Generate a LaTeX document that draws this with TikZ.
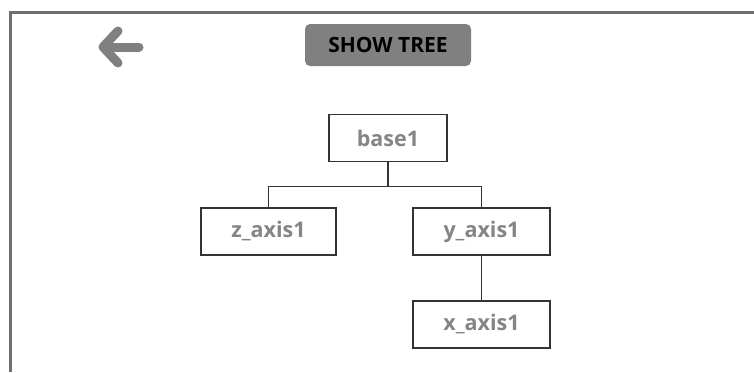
\documentclass[tikz,border=0pt]{standalone}
\usepackage{fontspec}
\setmainfont{Open Sans}
\usetikzlibrary{calc}
\definecolor{framegray}{HTML}{707070}
\definecolor{btngray}{HTML}{808080}
\definecolor{labelgray}{HTML}{858585}
\definecolor{boxline}{HTML}{333333}
\tikzset{
  treebox/.style={draw=boxline, line width=1.4pt, fill=white, minimum width=118pt,
    minimum height=47pt, inner sep=0pt, font=\fontsize{21.5}{24}\selectfont\bfseries,
    text=labelgray},
  branch/.style={draw=boxline, line width=1.4pt},
}
\begin{document}
\begin{tikzpicture}[x=1pt, y=-1pt]
  \useasboundingbox (0,0) rectangle (754,372);
  % window frame (top and left edges)
  \draw[framegray, line width=3pt] (10,372) -- (10,12) -- (754,12);
  % back arrow
  \draw[btngray, line width=9pt, line cap=round, line join=round]
    (118,31) -- (103,47) -- (118,63);
  \draw[btngray, line width=9pt, line cap=round] (104,47) -- (139,47);
  % show tree button
  \node[fill=btngray, rounded corners=5pt, minimum width=166pt, minimum height=42pt,
    inner sep=0pt, font=\fontsize{21}{24}\selectfont\bfseries, text=black]
    (btn) at (388,45) {SHOW TREE};
  % tree nodes
  \node[treebox] (base) at (388,138) {base1};
  \node[treebox, minimum width=135pt] (z) at (268.5,231.5) {z\_axis1};
  \node[treebox, minimum width=137pt] (y) at (481.5,231.5) {y\_axis1};
  \node[treebox, minimum width=137pt] (x) at (481.5,324.5) {x\_axis1};
  % connectors
  \coordinate (fork) at ($(base.south)+(0,24)$);
  \draw[branch] (base.south) -- (fork) -- (z.north |- fork) -- (z.north);
  \draw[branch] (fork) -- (y.north |- fork) -- (y.north);
  \draw[branch] (y.south) -- (x.north);
\end{tikzpicture}
\end{document}
